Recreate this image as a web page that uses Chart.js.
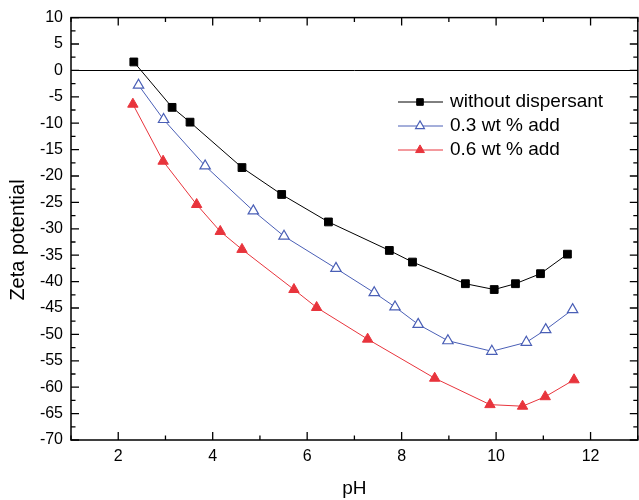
<!DOCTYPE html>
<html>
<head>
<meta charset="utf-8">
<script src="https://cdn.jsdelivr.net/npm/chart.js@4/dist/chart.umd.min.js"></script>
<style>
  html, body { margin: 0; padding: 0; background: #fff; overflow: hidden; }
  #wrap { width: 639px; height: 500px; overflow: hidden; }
</style>
</head>
<body>
<div id="wrap"><canvas id="chart" width="645" height="500"></canvas></div>
<script>
const xTicks = [2, 4, 6, 8, 10, 12];
const yTicks = [-70, -65, -60, -55, -50, -45, -40, -35, -30, -25, -20, -15, -10, -5, 0, 5, 10];

const phNone = [2.33, 3.14, 3.52, 4.62, 5.46, 6.45, 7.74, 8.23, 9.35, 9.96, 10.41, 10.94, 11.51];
const zetaNone = [1.6, -7.0, -9.8, -18.4, -23.5, -28.7, -34.1, -36.3, -40.4, -41.5, -40.4, -38.5, -34.8];

const ph03 = [2.43, 2.96, 3.84, 4.86, 5.51, 6.61, 7.42, 7.86, 8.35, 8.98, 9.91, 10.64, 11.05, 11.62];
const zeta03 = [-2.8, -9.3, -18.1, -26.6, -31.4, -37.5, -42.1, -44.8, -48.1, -51.2, -53.2, -51.5, -49.1, -45.3];

const ph06 = [2.31, 2.95, 3.66, 4.16, 4.62, 5.72, 6.20, 7.28, 8.70, 9.87, 10.56, 11.04, 11.65];
const zeta06 = [-6.4, -17.2, -25.4, -30.5, -33.9, -41.5, -44.9, -50.9, -58.3, -63.3, -63.6, -61.8, -58.6];

const labels = ["without dispersant", "0.3 wt % add", "0.6 wt % add"];

const FONT = "'Liberation Sans', Arial, sans-serif";
const BLUE = "#4a5fb6";
const RED = "#e8343c";

function pts(xs, ys) {
  return xs.map((x, i) => ({ x: x, y: ys[i] }));
}

// frame with inward ticks, y title and legend
const decor = {
  id: "decor",
  afterDraw(chart) {
    const ctx = chart.ctx;
    const a = chart.chartArea;
    const xs = chart.scales.x;
    const ys = chart.scales.y;
    ctx.save();
    ctx.strokeStyle = "#000";
    ctx.lineWidth = 1.5;
    ctx.strokeRect(a.left, a.top, a.right - a.left, a.bottom - a.top);

    ctx.lineWidth = 1.3;
    ctx.beginPath();
    for (let v = 1; v <= 13; v++) {
      const px = xs.getPixelForValue(v);
      const len = v % 2 === 0 ? 8 : 4.5;
      ctx.moveTo(px, a.bottom); ctx.lineTo(px, a.bottom - len);
      ctx.moveTo(px, a.top); ctx.lineTo(px, a.top + len);
    }
    for (let v = -70; v <= 10; v += 2.5) {
      const py = ys.getPixelForValue(v);
      const len = v % 5 === 0 ? 8 : 4.5;
      ctx.moveTo(a.left, py); ctx.lineTo(a.left + len, py);
      ctx.moveTo(a.right, py); ctx.lineTo(a.right - len, py);
    }
    ctx.stroke();

    // y title
    ctx.fillStyle = "#000";
    ctx.font = "20px " + FONT;
    ctx.textAlign = "center";
    ctx.textBaseline = "middle";
    ctx.translate(18, 240);
    ctx.rotate(-Math.PI / 2);
    ctx.fillText("Zeta potential", 0, 0);
    ctx.restore();

    // legend
    ctx.save();
    ctx.font = "19px " + FONT;
    ctx.textBaseline = "middle";
    ctx.textAlign = "left";
    const rows = [102, 126, 150];
    chart.data.datasets.forEach((ds, i) => {
      const y = rows[i];
      ctx.strokeStyle = ds.borderColor;
      ctx.lineWidth = 1;
      ctx.beginPath();
      ctx.moveTo(398, y); ctx.lineTo(443, y);
      ctx.stroke();
      ctx.fillStyle = ds.pointBackgroundColor;
      ctx.strokeStyle = ds.pointBorderColor;
      ctx.lineWidth = ds.pointBorderWidth;
      Chart.helpers.drawPoint(ctx, {
        pointStyle: ds.pointStyle,
        radius: ds.pointRadius * 0.85,
        borderWidth: ds.pointBorderWidth
      }, 420, y);
      ctx.fillStyle = "#000";
      ctx.fillText(ds.label, 450, y);
    });
    ctx.restore();
  }
};

new Chart(document.getElementById("chart"), {
  type: "line",
  data: {
    datasets: [
      {
        label: labels[0],
        data: pts(phNone, zetaNone),
        borderColor: "#000",
        backgroundColor: "#000",
        pointBackgroundColor: "#000",
        pointBorderColor: "#000",
        pointStyle: "rect",
        pointRadius: 5.5,
        borderWidth: 1,
        pointBorderWidth: 1
      },
      {
        label: labels[1],
        data: pts(ph03, zeta03),
        borderColor: BLUE,
        backgroundColor: "#fff",
        pointBackgroundColor: "#fff",
        pointBorderColor: BLUE,
        pointStyle: "triangle",
        pointRadius: 6,
        borderWidth: 1,
        pointBorderWidth: 1.2
      },
      {
        label: labels[2],
        data: pts(ph06, zeta06),
        borderColor: RED,
        backgroundColor: RED,
        pointBackgroundColor: RED,
        pointBorderColor: RED,
        pointStyle: "triangle",
        pointRadius: 6,
        borderWidth: 1,
        pointBorderWidth: 1
      }
    ]
  },
  options: {
    responsive: false,
    animation: false,
    devicePixelRatio: 1,
    layout: { padding: { top: 14, right: 4, left: 0, bottom: 0 } },
    plugins: { legend: { display: false }, tooltip: { enabled: false } },
    scales: {
      x: {
        type: "linear",
        min: 1,
        max: 13,
        afterBuildTicks: s => { s.ticks = xTicks.map(v => ({ value: v })); },
        afterFit: s => { s.height = 60; },
        grid: { display: false, drawTicks: false },
        border: { display: false },
        ticks: { color: "#000", font: { family: FONT, size: 16 }, padding: 7, maxRotation: 0 },
        title: {
          display: true,
          text: "pH",
          color: "#000",
          font: { family: FONT, size: 19 },
          padding: { top: 0, bottom: 0 }
        }
      },
      y: {
        min: -70,
        max: 10,
        afterBuildTicks: s => { s.ticks = yTicks.map(v => ({ value: v })); },
        afterFit: s => { s.width = 71; },
        grid: {
          drawTicks: false,
          color: c => (c.tick && c.tick.value === 0 ? "#000" : "rgba(0,0,0,0)"),
          lineWidth: 1
        },
        border: { display: false },
        ticks: { color: "#000", font: { family: FONT, size: 16 }, padding: 8 }
      }
    }
  },
  plugins: [decor]
});
</script>
</body>
</html>
